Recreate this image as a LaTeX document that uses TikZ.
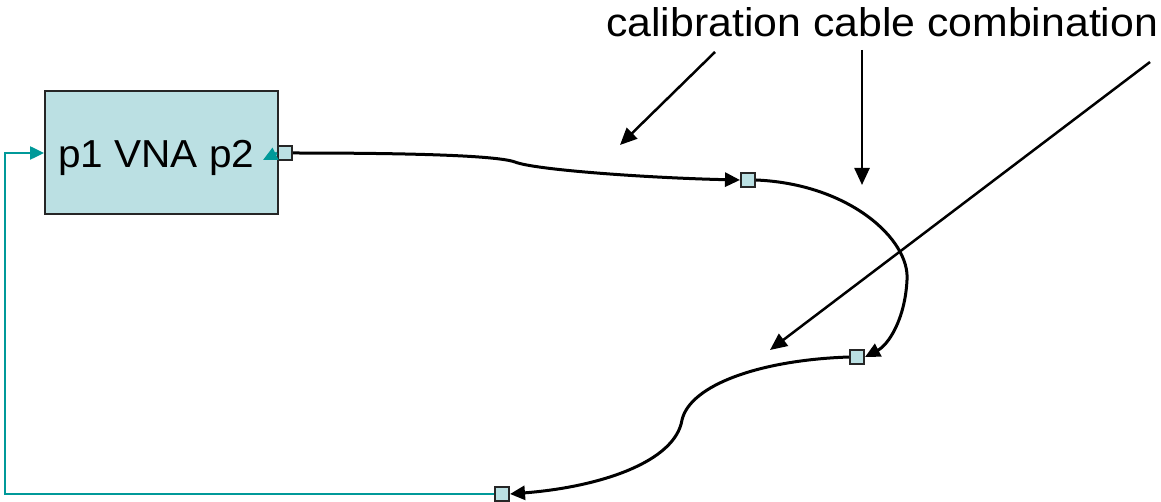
\documentclass[tikz,border=0pt]{standalone}
\usepackage{fontspec}
\setmainfont{Liberation Sans}
\usetikzlibrary{arrows.meta}
\definecolor{boxfill}{HTML}{BBE0E3}
\definecolor{tealline}{HTML}{009999}
\begin{document}
\begin{tikzpicture}[x=1pt,y=-1pt,
  vnabox/.style={draw=black!85,line width=2pt,fill=boxfill,minimum width=233pt,minimum height=123pt,inner sep=0pt},
  port/.style={draw=black!85,line width=2pt,fill=boxfill,minimum size=14pt,inner sep=0pt},
  cable/.style={line width=3pt,-{Triangle[length=15pt,width=14pt]}},
  note/.style={line width=2.5pt,-{Triangle[length=17pt,width=15pt]}},
  tealc/.style={draw=tealline,line width=2.5pt},
  tealtip/.style={-{Triangle[length=14pt,width=13pt]}}]
\useasboundingbox (0,0) rectangle (1161,502);
\node[vnabox] (vna) at (161.5,152.5) {};
\node[anchor=base west,inner sep=0pt] (vnatext) at (58,168) {\fontsize{39}{42}\selectfont\scalebox{1.04}[1]{p1 VNA p2}};
\node[port] (sq1) at (285,153) {};
\node[port] (sq2) at (748,180) {};
\node[port] (sq3) at (857,357) {};
\node[port] (sq4) at (502,494) {};
\node[anchor=base west,inner sep=0pt] (title) at (606,37) {\fontsize{40}{44}\selectfont\scalebox{1.07}[1]{calibration cable combination}};
% teal loop
\coordinate (tl) at (5,153);
\coordinate (bl) at (5,494);
\coordinate (p1in) at (vna.west |- tl);
\draw[tealc,tealtip] (sq4.west) -- (bl) -- (tl) -- (p1in);
\coordinate (p2tip) at (263,160);
\draw[tealc,tealtip] (sq1.west) -- (p2tip);
% cables
\draw[cable] (sq1.east) .. controls (400,153) and (495,155) .. (515,162) .. controls (535,170) and (650,178) .. (sq2.west);
\draw[cable] (sq2.east) .. controls (850,184) and (910,240) .. (907,280) .. controls (905,320) and (888,345) .. (sq3.east);
\draw[cable] (sq3.west) .. controls (760,360) and (690,385) .. (682,420) .. controls (675,462) and (600,487) .. (sq4.east);
% annotation arrows
\coordinate (a1s) at (715,52);
\coordinate (a1e) at (620,145);
\coordinate (a2s) at (862,50);
\coordinate (a2e) at (862,185);
\coordinate (a3s) at (1150,62);
\coordinate (a3e) at (770,350);
\draw[note] (a1s) -- (a1e);
\draw[note] (a2s) -- (a2e);
\draw[note] (a3s) -- (a3e);
\end{tikzpicture}
\end{document}
